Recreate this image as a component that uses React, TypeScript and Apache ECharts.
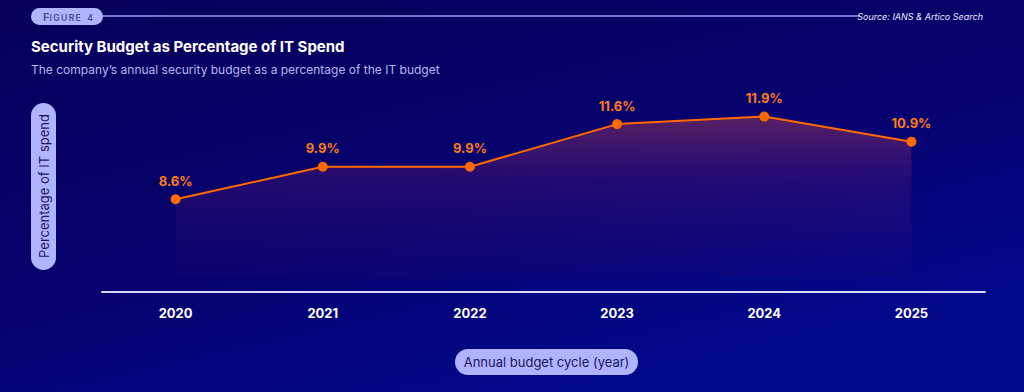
import React, { useEffect, useRef } from "react";
import * as echarts from "echarts";

const years = ["2020", "2021", "2022", "2023", "2024", "2025"];
const budgetPct = [8.6, 9.9, 9.9, 11.6, 11.9, 10.9];

const title = "Security Budget as Percentage of IT Spend";
const subtitle = "The company\u2019s annual security budget as a percentage of the IT budget";
const source = "Source: IANS & Artico Search";
const yName = "Percentage of IT spend";
const xName = "Annual budget cycle (year)";

export default function App() {
  const ref = useRef<HTMLDivElement>(null);
  useEffect(() => {
    document.body.style.margin = "0";
    const chart = echarts.init(ref.current!, null, { renderer: "svg" });
    const font = "Inter, 'Noto Sans', sans-serif";
    chart.setOption({
      animation: false,
      backgroundColor: {
        type: "linear",
        x: 0, y: 0, x2: 0.6, y2: 1,
        colorStops: [
          { offset: 0, color: "#06005a" },
          { offset: 0.6, color: "#070270" },
          { offset: 1, color: "#03088c" },
        ],
      },
      textStyle: { fontFamily: font },
      grid: { left: 102, right: 39, top: 89, bottom: 115, containLabel: false },
      xAxis: {
        type: "category",
        data: years,
        boundaryGap: true,
        offset: 15,
        axisLine: { lineStyle: { color: "#d8d8ff", width: 2 } },
        axisTick: { show: false },
        axisLabel: { color: "#ffffff", fontWeight: "bold", fontSize: 13, margin: 14, fontFamily: font },
        splitLine: { show: false },
      },
      yAxis: {
        type: "value",
        min: 5.5,
        max: 13,
        show: false,
        splitLine: { show: false },
      },
      series: [
        {
          type: "line",
          data: budgetPct,
          symbol: "circle",
          symbolSize: 10,
          itemStyle: { color: "#ff6a00" },
          lineStyle: { color: "#ff6a00", width: 2 },
          label: {
            show: true,
            position: "top",
            distance: 7,
            color: "#ff7a1a",
            fontWeight: "bold",
            fontSize: 13,
            fontFamily: font,
            formatter: (p: any) => p.value.toFixed(1) + "%",
          },
          areaStyle: {
            color: {
              type: "linear",
              x: 0, y: 0, x2: 0, y2: 1,
              colorStops: [
                { offset: 0, color: "rgba(220,80,80,0.55)" },
                { offset: 0.4, color: "rgba(130,35,120,0.32)" },
                { offset: 1, color: "rgba(40,10,110,0.15)" },
              ],
            },
          },
        },
      ],
      graphic: [
        { type: "line", shape: { x1: 100, y1: 16, x2: 860, y2: 16 }, style: { stroke: "#9a9cf5", lineWidth: 1.5 } },
        { type: "rect", shape: { x: 31, y: 8, width: 72, height: 17, r: 8.5 }, style: { fill: "#b0b4ff" } },
        {
          type: "text", x: 43, y: 17,
          style: {
            text: "{a|F}{b|I\u2009G\u2009U\u2009R\u2009E\u2002 4}",
            align: "left", verticalAlign: "middle",
            rich: {
              a: { fill: "#4a4a8c", font: "600 11px " + font },
              b: { fill: "#4a4a8c", font: "600 8.5px " + font, padding: [1, 0, 0, 0] },
            } as any,
          },
        },
        { type: "text", x: 983, y: 16, style: { text: source, fill: "#e8e8ff", font: "italic 9px " + font, align: "right", verticalAlign: "middle" } },
        { type: "text", x: 31, y: 46, style: { text: title, fill: "#ffffff", font: "bold 15px " + font, align: "left", verticalAlign: "middle" } },
        { type: "text", x: 31, y: 69, style: { text: subtitle, fill: "#b6b8f2", font: "12px " + font, align: "left", verticalAlign: "middle" } },
        { type: "rect", shape: { x: 31, y: 103, width: 25, height: 167, r: 12.5 }, style: { fill: "#b0b4ff" } },
        { type: "text", x: 43.5, y: 186, rotation: Math.PI / 2, style: { text: yName, fill: "#1a1660", font: "13px " + font, align: "center", verticalAlign: "middle" } },
        { type: "rect", shape: { x: 455, y: 349, width: 183, height: 26, r: 13 }, style: { fill: "#b0b4ff" } },
        { type: "text", x: 546.5, y: 362, style: { text: xName, fill: "#1a1660", font: "13px " + font, align: "center", verticalAlign: "middle" } },
      ],
    });
    return () => chart.dispose();
  }, []);
  return <div ref={ref} style={{ position: "absolute", left: 0, top: 0, width: 1024, height: 392 }} />;
}
